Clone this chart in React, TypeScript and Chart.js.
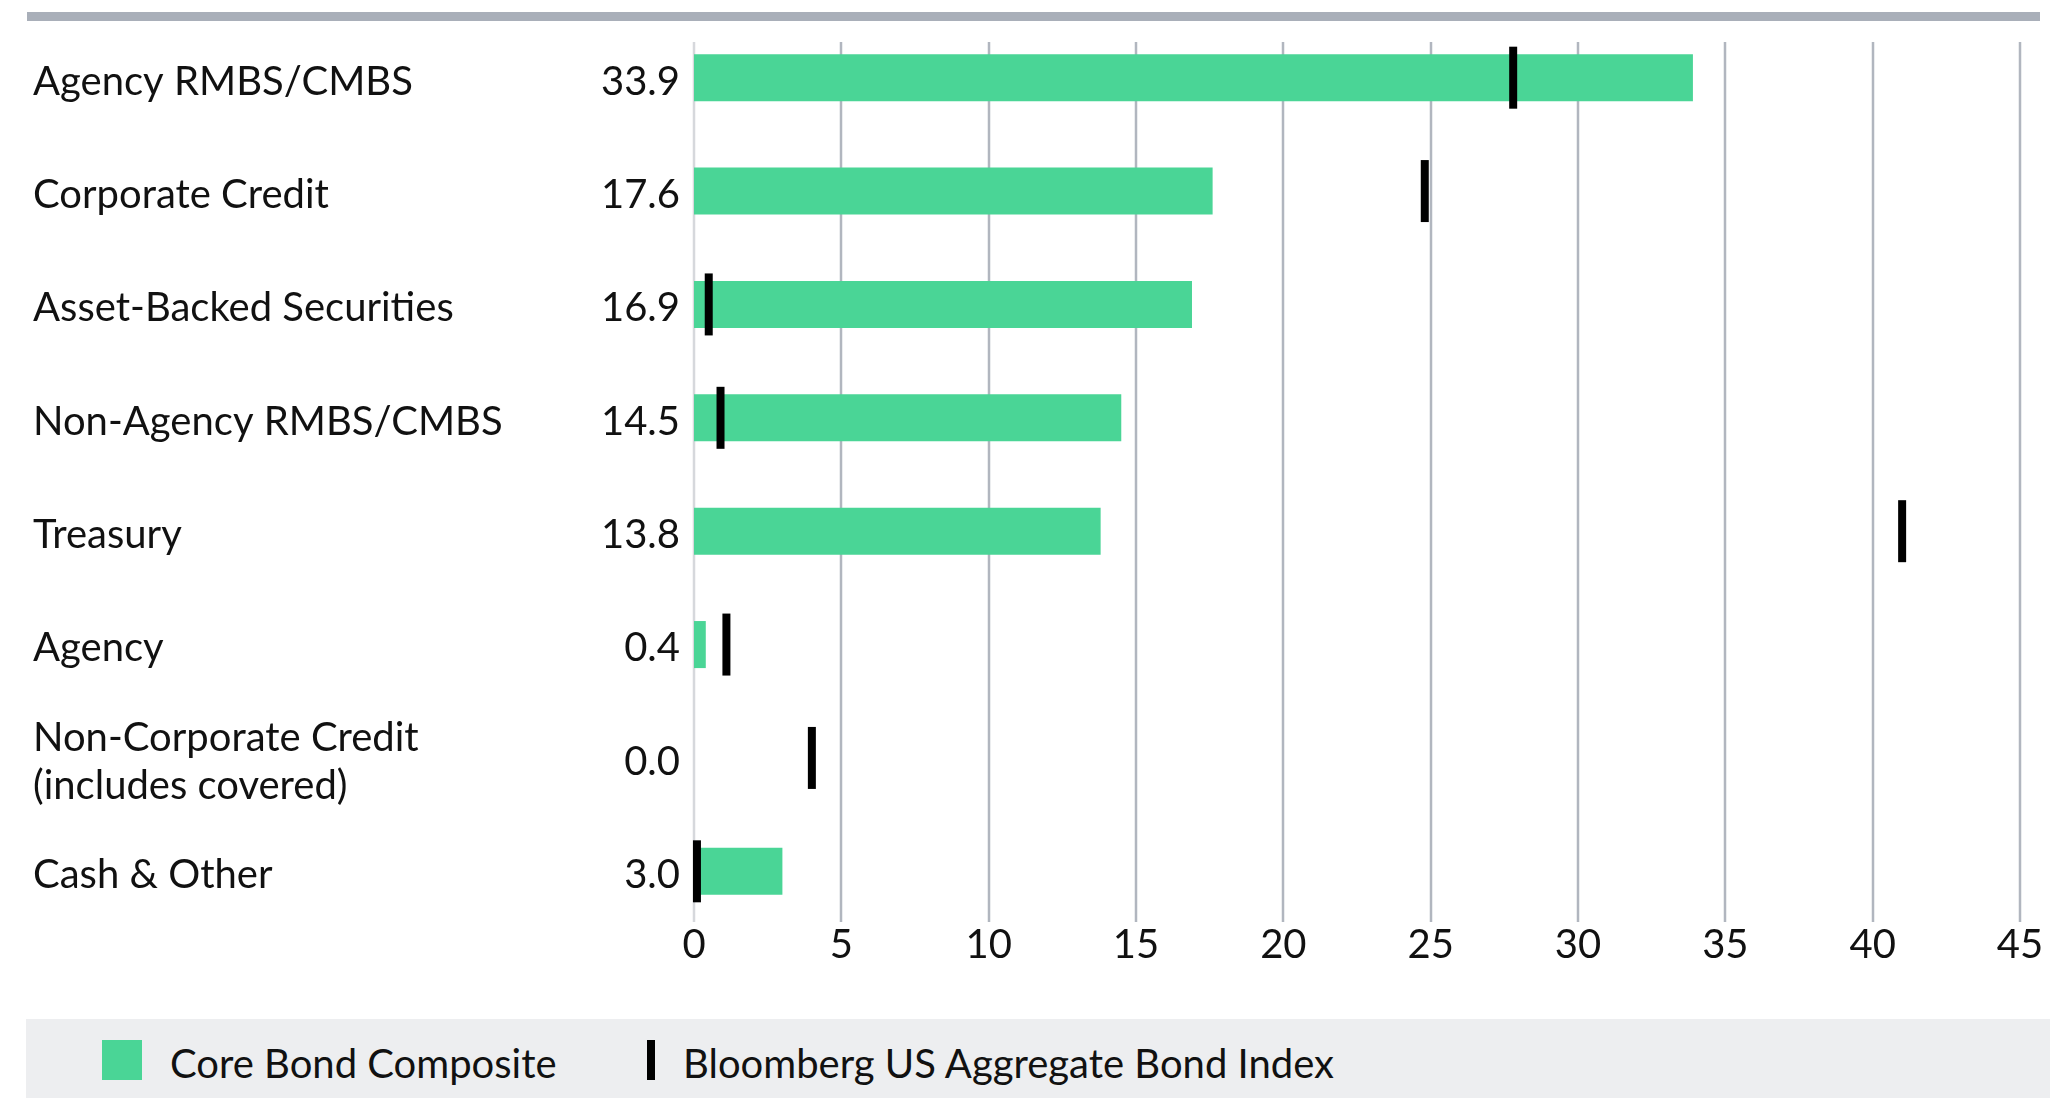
import React, { useEffect, useRef } from "react";
import { Chart, registerables } from "chart.js";

Chart.register(...registerables);

const categories: (string | string[])[] = [
  "Agency RMBS/CMBS",
  "Corporate Credit",
  "Asset-Backed Securities",
  "Non-Agency RMBS/CMBS",
  "Treasury",
  "Agency",
  ["Non-Corporate Credit", "(includes covered)"],
  "Cash & Other",
];
const compositeValues = [33.9, 17.6, 16.9, 14.5, 13.8, 0.4, 0.0, 3.0];
const indexValues = [27.8, 24.8, 0.5, 0.9, 41.0, 1.1, 4.0, 0.1];
const xMin = 0;
const xMax = 45;
const xStep = 5;
const seriesNames = ["Core Bond Composite", "Bloomberg US Aggregate Bond Index"];

const FONT = "Lato, 'Noto Sans', sans-serif";
const GREEN = "#4ad596";

export default function App() {
  const canvasRef = useRef<HTMLCanvasElement | null>(null);

  useEffect(() => {
    document.body.style.margin = "0";
    const canvas = canvasRef.current;
    if (!canvas) return;

    const gridPlugin = {
      id: "customGrid",
      beforeDatasetsDraw(chart: any) {
        const { ctx, chartArea, scales } = chart;
        const xs = scales.x;
        ctx.save();
        xs.ticks.forEach((t: any) => {
          const x = Math.round(xs.getPixelForValue(t.value));
          ctx.beginPath();
          ctx.strokeStyle = t.value === 0 ? "#d6d8dc" : "#b1b6bf";
          ctx.lineWidth = 2.5;
          ctx.moveTo(x, chartArea.top + 21);
          ctx.lineTo(x, chartArea.bottom - 6);
          ctx.stroke();
        });
        ctx.restore();
      },
      afterDatasetsDraw(chart: any) {
        const { ctx, chartArea, scales } = chart;
        const ys = scales.y;
        ctx.save();
        ctx.font = `40px ${FONT}`;
        ctx.fillStyle = "#111";
        ctx.textBaseline = "middle";
        const lh = 48;
        categories.forEach((c, i) => {
          const y = ys.getPixelForValue(i) + 4;
          const lines = Array.isArray(c) ? c : [c];
          ctx.textAlign = "left";
          lines.forEach((ln, k) => {
            ctx.fillText(ln, 33, y + (k - (lines.length - 1) / 2) * lh);
          });
          ctx.textAlign = "right";
          ctx.fillText(compositeValues[i].toFixed(1), chartArea.left - 14, y);
        });
        ctx.restore();
      },
    };

    const chart = new Chart(canvas, {
      type: "bar",
      data: {
        labels: categories.map((c) => (Array.isArray(c) ? c.join(" ") : c)),
        datasets: [
          {
            type: "bar",
            label: seriesNames[0],
            data: compositeValues,
            backgroundColor: GREEN,
            borderWidth: 0,
            barPercentage: 0.415,
            categoryPercentage: 1,
            order: 2,
          } as any,
          {
            type: "line",
            label: seriesNames[1],
            data: indexValues,
            indexAxis: "y",
            showLine: false,
            clip: false,
            pointStyle: "line",
            pointRotation: 90,
            pointRadius: 31,
            pointHoverRadius: 31,
            pointBorderWidth: 8,
            pointBorderColor: "#000",
            pointBackgroundColor: "#000",
            borderColor: "#000",
            order: 1,
          } as any,
        ],
      },
      options: {
        indexAxis: "y",
        animation: false,
        responsive: false,
        maintainAspectRatio: false,
        layout: { autoPadding: false, padding: { left: 0, top: 21, right: 30, bottom: 0 } },
        plugins: {
          legend: { display: false },
          tooltip: { enabled: false },
        },
        scales: {
          x: {
            type: "linear",
            min: xMin,
            max: xMax,
            ticks: {
              stepSize: xStep,
              color: "#111",
              font: { family: FONT, size: 40 },
              padding: -7,
            },
            grid: { display: false, drawTicks: false },
            border: { display: false },
            afterFit: (s: any) => {
              s.height = 72;
              s.paddingLeft = 0;
              s.paddingRight = 0;
            },
          },
          y: {
            type: "category",
            offset: true,
            ticks: { display: false },
            grid: { display: false, drawTicks: false },
            border: { display: false },
            afterFit: (s: any) => {
              s.width = 694;
              s.paddingTop = 0;
              s.paddingBottom = 0;
            },
          },
        },
      },
      plugins: [gridPlugin],
    });

    return () => chart.destroy();
  }, []);

  return (
    <div style={{ position: "relative", width: 2050, height: 1098, overflow: "hidden", background: "#fff", fontFamily: FONT }}>
      <div style={{ position: "absolute", left: 27, top: 12, width: 2013, height: 9, background: "#a9afb9" }} />
      <canvas ref={canvasRef} width={2050} height={1000} style={{ position: "absolute", left: 0, top: 0, width: 2050, height: 1000 }} />
      <div style={{ position: "absolute", left: 26, top: 1019, width: 2024, height: 79, background: "#edeef0" }}>
        <div style={{ position: "absolute", left: 76, top: 21, width: 40, height: 40, background: GREEN }} />
        <div style={{ position: "absolute", left: 144, top: 5, height: 79, lineHeight: "79px", fontSize: 40, color: "#111", whiteSpace: "nowrap" }}>{seriesNames[0]}</div>
        <div style={{ position: "absolute", left: 621, top: 21, width: 8, height: 40, background: "#000" }} />
        <div style={{ position: "absolute", left: 657, top: 5, height: 79, lineHeight: "79px", fontSize: 40, color: "#111", whiteSpace: "nowrap" }}>{seriesNames[1]}</div>
      </div>
    </div>
  );
}
